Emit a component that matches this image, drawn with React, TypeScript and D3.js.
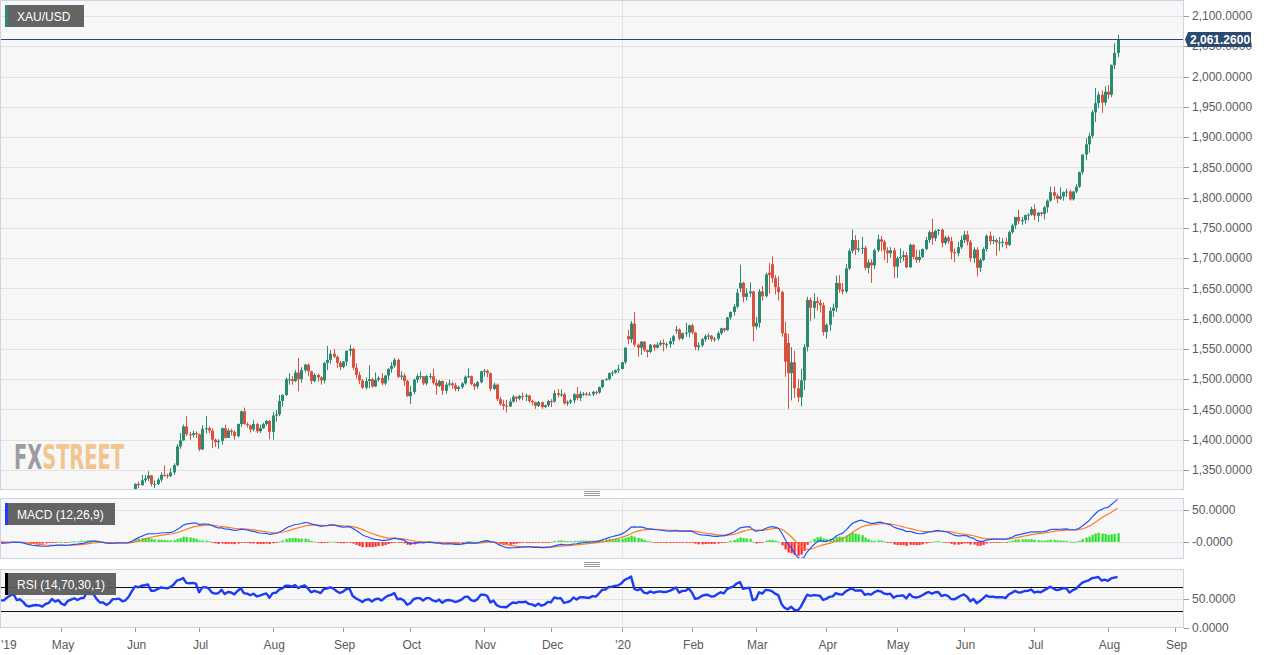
import React from 'react';
import * as d3 from 'd3';

// XAU/USD daily candles + MACD(12,26,9) + RSI(14)
// each row: open, high, low, close

type Bar = [number, number, number, number];

const mar19: Bar[] = [
  [1309, 1310, 1293, 1295], [1295, 1305, 1293, 1302], [1302, 1306, 1298, 1302], [1302, 1309, 1300, 1306],
  [1306, 1314, 1299, 1312], [1312, 1320, 1304, 1308], [1308, 1314, 1305, 1312], [1312, 1324, 1311, 1322],
  [1322, 1324, 1313, 1315], [1315, 1317, 1307, 1309], [1309, 1310, 1286, 1290], [1290, 1297, 1288, 1292],
];
const apr19: Bar[] = [
  [1292, 1295, 1285, 1287], [1287, 1293, 1281, 1291], [1291, 1295, 1286, 1290], [1290, 1296, 1284, 1291],
  [1291, 1296, 1285, 1291], [1291, 1300, 1289, 1298], [1298, 1307, 1296, 1303], [1303, 1310, 1300, 1307],
  [1307, 1309, 1290, 1293], [1293, 1298, 1288, 1295], [1295, 1296, 1284, 1288], [1288, 1290, 1274, 1276],
  [1276, 1280, 1271, 1273], [1273, 1278, 1266, 1275], [1275, 1278, 1273, 1276], [1276, 1278, 1270, 1275],
  [1275, 1277, 1266, 1271], [1271, 1278, 1270, 1276], [1276, 1281, 1272, 1278], [1278, 1288, 1275, 1286],
  [1286, 1288, 1279, 1280], [1280, 1287, 1279, 1283],
];
const may19: Bar[] = [
  [1283, 1286, 1272, 1274], [1274, 1276, 1266, 1270], [1270, 1283, 1268, 1279], [1279, 1285, 1277, 1282],
  [1282, 1287, 1280, 1285], [1285, 1286, 1277, 1281], [1281, 1286, 1279, 1285], [1285, 1288, 1280, 1286],
  [1286, 1302, 1284, 1301], [1301, 1303, 1294, 1297], [1297, 1301, 1294, 1297], [1297, 1298, 1283, 1286],
  [1286, 1287, 1275, 1277], [1277, 1281, 1274, 1277], [1277, 1278, 1269, 1270], [1270, 1276, 1270, 1274],
  [1274, 1285, 1272, 1283], [1283, 1287, 1280, 1283], [1283, 1286, 1281, 1284], [1284, 1285, 1275, 1278],
  [1278, 1283, 1277, 1280], [1280, 1290, 1278, 1288], [1288, 1306, 1287, 1305],
];
const jun19: Bar[] = [
  [1305, 1328, 1304, 1327], [1327, 1331, 1320, 1325], [1325, 1342, 1324, 1333], [1333, 1342, 1329, 1336],
  [1336, 1348, 1332, 1341], [1341, 1342, 1323, 1327], [1327, 1333, 1320, 1327], [1327, 1337, 1325, 1334],
  [1334, 1346, 1330, 1342], [1342, 1358, 1339, 1341], [1341, 1344, 1336, 1340], [1340, 1353, 1338, 1346],
  [1346, 1361, 1342, 1358], [1358, 1393, 1356, 1389], [1389, 1411, 1385, 1399], [1399, 1425, 1398, 1422],
  [1422, 1439, 1406, 1409], [1409, 1413, 1400, 1408], [1408, 1415, 1404, 1411], [1411, 1414, 1403, 1409],
];
const jul19: Bar[] = [
  [1409, 1410, 1381, 1384], [1384, 1424, 1383, 1418], [1418, 1439, 1410, 1419], [1419, 1422, 1411, 1415],
  [1415, 1419, 1386, 1400], [1400, 1402, 1388, 1396], [1396, 1401, 1385, 1398], [1398, 1420, 1392, 1419],
  [1419, 1425, 1402, 1403], [1403, 1419, 1403, 1415], [1415, 1418, 1407, 1413], [1413, 1416, 1400, 1406],
  [1406, 1427, 1404, 1426], [1426, 1448, 1421, 1447], [1447, 1453, 1425, 1426], [1426, 1429, 1420, 1424],
  [1424, 1425, 1412, 1417], [1417, 1433, 1414, 1426], [1426, 1428, 1411, 1414], [1414, 1425, 1411, 1419],
  [1419, 1428, 1418, 1426], [1426, 1433, 1423, 1431], [1431, 1433, 1401, 1413],
];
const aug19: Bar[] = [
  [1413, 1446, 1400, 1440], [1440, 1449, 1430, 1442], [1442, 1474, 1439, 1464], [1464, 1475, 1455, 1474],
  [1474, 1503, 1472, 1500], [1500, 1510, 1491, 1500], [1500, 1505, 1491, 1497], [1497, 1515, 1495, 1511],
  [1511, 1535, 1480, 1500], [1500, 1520, 1494, 1515], [1515, 1525, 1511, 1524], [1524, 1526, 1505, 1513],
  [1513, 1514, 1492, 1497], [1497, 1510, 1495, 1507], [1507, 1509, 1496, 1503], [1503, 1505, 1491, 1498],
  [1498, 1528, 1493, 1527], [1527, 1555, 1515, 1532], [1532, 1548, 1525, 1542], [1542, 1550, 1535, 1537],
  [1537, 1539, 1519, 1527], [1527, 1530, 1515, 1520],
];
const sep19: Bar[] = [
  [1520, 1530, 1518, 1529], [1529, 1547, 1522, 1547], [1547, 1557, 1538, 1550], [1550, 1552, 1515, 1519],
  [1519, 1526, 1501, 1507], [1507, 1512, 1492, 1498], [1498, 1500, 1484, 1486], [1486, 1503, 1483, 1497],
  [1497, 1523, 1485, 1500], [1500, 1502, 1486, 1488], [1488, 1511, 1487, 1499], [1499, 1505, 1496, 1502],
  [1502, 1510, 1490, 1493], [1493, 1507, 1490, 1506], [1506, 1518, 1498, 1517], [1517, 1528, 1511, 1522],
  [1522, 1535, 1519, 1532], [1532, 1534, 1502, 1504], [1504, 1513, 1499, 1506], [1506, 1510, 1489, 1497],
  [1497, 1499, 1471, 1472],
];
const oct19: Bar[] = [
  [1472, 1489, 1459, 1479], [1479, 1501, 1475, 1499], [1499, 1509, 1494, 1505], [1505, 1513, 1500, 1505],
  [1505, 1505, 1490, 1493], [1493, 1507, 1490, 1505], [1505, 1510, 1500, 1505], [1505, 1517, 1491, 1494],
  [1494, 1500, 1474, 1489], [1489, 1499, 1487, 1497], [1497, 1498, 1474, 1481], [1481, 1495, 1476, 1491],
  [1491, 1499, 1488, 1493], [1493, 1496, 1484, 1490], [1490, 1494, 1480, 1484], [1484, 1489, 1480, 1487],
  [1487, 1495, 1484, 1493], [1493, 1506, 1491, 1504], [1504, 1518, 1502, 1505], [1505, 1506, 1490, 1492],
  [1492, 1494, 1482, 1488], [1488, 1497, 1484, 1495], [1495, 1514, 1493, 1513],
];
const nov19: Bar[] = [
  [1513, 1517, 1504, 1514], [1514, 1516, 1503, 1510], [1510, 1511, 1480, 1484], [1484, 1494, 1482, 1491],
  [1491, 1493, 1464, 1467], [1467, 1471, 1456, 1459], [1459, 1466, 1449, 1456], [1456, 1466, 1445, 1455],
  [1455, 1468, 1454, 1463], [1463, 1474, 1461, 1471], [1471, 1472, 1462, 1468], [1468, 1474, 1465, 1472],
  [1472, 1478, 1465, 1471], [1471, 1476, 1464, 1473], [1473, 1474, 1461, 1464], [1464, 1466, 1457, 1462],
  [1462, 1463, 1451, 1456], [1456, 1464, 1454, 1462], [1462, 1463, 1451, 1454], [1454, 1458, 1452, 1457],
  [1457, 1466, 1454, 1464],
];
const dec19: Bar[] = [
  [1464, 1467, 1454, 1463], [1463, 1482, 1461, 1477], [1477, 1484, 1470, 1474], [1474, 1483, 1471, 1475],
  [1475, 1478, 1458, 1460], [1460, 1465, 1456, 1462], [1462, 1467, 1459, 1465], [1465, 1477, 1460, 1475],
  [1475, 1487, 1465, 1469], [1469, 1480, 1464, 1476], [1476, 1479, 1472, 1476], [1476, 1479, 1472, 1475],
  [1475, 1479, 1473, 1475], [1475, 1481, 1472, 1479], [1479, 1481, 1474, 1478], [1478, 1488, 1476, 1487],
  [1487, 1499, 1485, 1499], [1499, 1502, 1498, 1500], [1500, 1511, 1498, 1510], [1510, 1514, 1505, 1511],
  [1511, 1516, 1509, 1515], [1515, 1524, 1510, 1517],
];
const jan20: Bar[] = [
  [1517, 1529, 1516, 1528], [1528, 1553, 1525, 1552], [1571, 1582, 1558, 1566], [1566, 1596, 1560, 1592],
  [1592, 1611, 1553, 1557], [1557, 1559, 1537, 1552], [1552, 1563, 1540, 1562], [1562, 1563, 1545, 1548],
  [1548, 1549, 1536, 1545], [1545, 1558, 1543, 1557], [1557, 1558, 1547, 1552], [1552, 1561, 1551, 1557],
  [1557, 1564, 1555, 1560], [1560, 1566, 1546, 1558], [1558, 1561, 1551, 1558], [1558, 1568, 1552, 1563],
  [1563, 1573, 1557, 1571], [1580, 1588, 1575, 1582], [1582, 1584, 1564, 1567], [1567, 1577, 1565, 1576],
  [1576, 1593, 1570, 1577], [1577, 1590, 1569, 1589],
];
const feb20: Bar[] = [
  [1589, 1592, 1574, 1577], [1577, 1578, 1548, 1553], [1553, 1561, 1547, 1556], [1556, 1568, 1553, 1566],
  [1566, 1574, 1562, 1571], [1571, 1576, 1565, 1572], [1572, 1573, 1562, 1566], [1566, 1570, 1562, 1567],
  [1567, 1579, 1564, 1576], [1576, 1585, 1573, 1584], [1584, 1585, 1578, 1581], [1581, 1603, 1580, 1602],
  [1602, 1612, 1598, 1611], [1611, 1624, 1605, 1620], [1620, 1649, 1617, 1643], [1650, 1689, 1644, 1659],
  [1659, 1661, 1627, 1636], [1636, 1650, 1630, 1642], [1642, 1660, 1636, 1645], [1645, 1646, 1563, 1587],
];
const mar20: Bar[] = [
  [1587, 1603, 1582, 1593], [1593, 1649, 1585, 1645], [1645, 1654, 1630, 1637], [1637, 1676, 1635, 1673],
  [1676, 1692, 1641, 1672], [1690, 1703, 1659, 1667], [1667, 1672, 1640, 1652], [1652, 1670, 1630, 1644],
  [1644, 1646, 1570, 1576], [1576, 1595, 1504, 1529], [1560, 1575, 1451, 1510], [1510, 1553, 1465, 1528],
  [1528, 1547, 1469, 1485], [1485, 1500, 1462, 1470], [1470, 1517, 1455, 1498], [1498, 1558, 1482, 1553],
  [1553, 1636, 1546, 1631], [1631, 1635, 1596, 1618], [1618, 1642, 1600, 1629], [1629, 1636, 1613, 1626],
  [1626, 1632, 1610, 1622], [1622, 1627, 1572, 1578],
];
const apr20: Bar[] = [
  [1578, 1592, 1567, 1590], [1590, 1619, 1580, 1613], [1613, 1625, 1603, 1618], [1618, 1671, 1611, 1659],
  [1659, 1672, 1643, 1648], [1648, 1659, 1640, 1645], [1645, 1690, 1642, 1683], [1683, 1716, 1680, 1712],
  [1712, 1747, 1708, 1730], [1730, 1738, 1705, 1714], [1714, 1730, 1710, 1716], [1716, 1735, 1707, 1717],
  [1717, 1720, 1680, 1684], [1684, 1698, 1675, 1693], [1693, 1698, 1659, 1688], [1688, 1716, 1682, 1713],
  [1713, 1739, 1710, 1731], [1731, 1737, 1711, 1727], [1727, 1730, 1697, 1713], [1713, 1718, 1692, 1708],
  [1708, 1718, 1701, 1713], [1713, 1717, 1667, 1686],
];
const may20: Bar[] = [
  [1686, 1703, 1667, 1700], [1700, 1716, 1692, 1702], [1702, 1712, 1695, 1705], [1705, 1710, 1683, 1685],
  [1685, 1724, 1684, 1722], [1722, 1723, 1698, 1702], [1702, 1714, 1692, 1697], [1697, 1713, 1693, 1702],
  [1702, 1716, 1700, 1715], [1715, 1735, 1713, 1730], [1730, 1746, 1725, 1743], [1743, 1765, 1722, 1733],
  [1733, 1747, 1728, 1745], [1745, 1748, 1738, 1747], [1747, 1749, 1718, 1725], [1725, 1737, 1722, 1734],
  [1734, 1737, 1724, 1728], [1728, 1735, 1698, 1710], [1710, 1716, 1693, 1708], [1708, 1727, 1703, 1718],
  [1718, 1737, 1715, 1730],
];
const jun20: Bar[] = [
  [1730, 1745, 1725, 1739], [1739, 1745, 1721, 1727], [1727, 1730, 1694, 1700], [1700, 1718, 1692, 1714],
  [1714, 1718, 1670, 1684], [1684, 1700, 1677, 1697], [1697, 1718, 1695, 1715], [1715, 1739, 1711, 1737],
  [1737, 1744, 1722, 1728], [1728, 1737, 1723, 1730], [1730, 1733, 1704, 1726], [1726, 1735, 1712, 1726],
  [1726, 1733, 1718, 1727], [1727, 1734, 1716, 1722], [1722, 1746, 1720, 1743], [1743, 1757, 1740, 1754],
  [1754, 1768, 1748, 1768], [1768, 1780, 1756, 1761], [1761, 1768, 1755, 1763], [1763, 1772, 1757, 1771],
  [1771, 1774, 1762, 1772], [1772, 1785, 1770, 1781],
];
const jul20: Bar[] = [
  [1781, 1789, 1763, 1770], [1770, 1776, 1760, 1775], [1775, 1777, 1769, 1773], [1773, 1786, 1764, 1784],
  [1784, 1797, 1775, 1795], [1795, 1818, 1793, 1809], [1809, 1818, 1797, 1803], [1803, 1806, 1791, 1798],
  [1798, 1817, 1796, 1802], [1802, 1810, 1795, 1809], [1809, 1815, 1801, 1810], [1810, 1813, 1795, 1797],
  [1797, 1811, 1795, 1810], [1810, 1822, 1807, 1818], [1818, 1843, 1816, 1842], [1842, 1872, 1838, 1871],
  [1871, 1898, 1862, 1888], [1888, 1907, 1874, 1902], [1902, 1945, 1898, 1941], [1941, 1981, 1925, 1956],
  [1956, 1975, 1948, 1970], [1970, 1977, 1940, 1957], [1957, 1984, 1952, 1975],
];
const aug20: Bar[] = [
  [1975, 1986, 1963, 1970], [1970, 2020, 1966, 2019], [2019, 2055, 2012, 2039], [2039, 2069, 2032, 2061.26],
];

const lastPrice = 2061.26;

const priceTicks = [1350, 1400, 1450, 1500, 1550, 1600, 1650, 1700, 1750, 1800, 1850, 1900, 1950, 2000, 2050, 2100];
const macdTicks = [50, 0];
const macdTickLabels = ['50.0000', '-0.0000'];
const rsiTicks = [50, 0];
const rsiLevels = [70, 30];

const monthKeys = ['2019-04', '2019-05', '2019-06', '2019-07', '2019-08', '2019-09', '2019-10', '2019-11', '2019-12',
  '2020-01', '2020-02', '2020-03', '2020-04', '2020-05', '2020-06', '2020-07', '2020-08', '2020-09'];
const monthLabels = ["'19", 'May', 'Jun', 'Jul', 'Aug', 'Sep', 'Oct', 'Nov', 'Dec',
  "'20", 'Feb', 'Mar', 'Apr', 'May', 'Jun', 'Jul', 'Aug', 'Sep'];

const UP = '#2d8a72';
const DOWN = '#d8533f';
const BORDER = '#cdd4e6';
const GRID = '#e4e4e4';
const PANEL = '#f7f7f7';
const TXT = '#5b5b5b';

export default function App() {
  React.useEffect(() => {
    document.body.style.margin = '0';
  }, []);

  // trading calendar: weekdays, no Jan 1st
  const cal: string[] = [];
  for (let t = Date.UTC(2019, 2, 14); t <= Date.UTC(2020, 8, 30); t += 864e5) {
    const d = new Date(t);
    const wd = d.getUTCDay();
    if (wd === 0 || wd === 6) continue;
    const k = d.toISOString().slice(0, 10);
    if (k === '2020-01-01') continue;
    cal.push(k);
  }
  const idxOf = new Map(cal.map((k, i) => [k, i] as [string, number]));

  const months: [string, number, Bar[]][] = [
    ['2019-03', 14, mar19], ['2019-04', 1, apr19], ['2019-05', 1, may19], ['2019-06', 1, jun19],
    ['2019-07', 1, jul19], ['2019-08', 1, aug19], ['2019-09', 1, sep19], ['2019-10', 1, oct19],
    ['2019-11', 1, nov19], ['2019-12', 1, dec19], ['2020-01', 1, jan20], ['2020-02', 1, feb20],
    ['2020-03', 1, mar20], ['2020-04', 1, apr20], ['2020-05', 1, may20], ['2020-06', 1, jun20],
    ['2020-07', 1, jul20], ['2020-08', 1, aug20],
  ];
  const rows: { i: number; o: number; h: number; l: number; c: number }[] = [];
  months.forEach(([ym, from, arr]) => {
    const days = cal.filter((k) => k.startsWith(ym) && +k.slice(8) >= from);
    arr.forEach((b, j) => {
      if (j < days.length) rows.push({ i: idxOf.get(days[j])!, o: b[0], h: b[1], l: b[2], c: b[3] });
    });
  });

  // indicators
  const closes = rows.map((r) => r.c);
  const ema = (vals: number[], n: number) => {
    const a = 2 / (n + 1);
    const out: number[] = [];
    vals.forEach((v, k) => out.push(k === 0 ? v : a * v + (1 - a) * out[k - 1]));
    return out;
  };
  const e12 = ema(closes, 12);
  const e26 = ema(closes, 26);
  const macd = closes.map((_, k) => e12[k] - e26[k]);
  const signal = ema(macd, 9);
  const hist = macd.map((m, k) => m - signal[k]);

  const rsi: (number | null)[] = closes.map(() => null);
  let ag = 0, al = 0;
  for (let k = 1; k < closes.length; k++) {
    const ch = closes[k] - closes[k - 1];
    const g = Math.max(ch, 0), l = Math.max(-ch, 0);
    if (k <= 14) {
      ag += g / 14; al += l / 14;
      if (k === 14) rsi[k] = 100 - 100 / (1 + ag / al);
    } else {
      ag = (ag * 13 + g) / 14; al = (al * 13 + l) / 14;
      rsi[k] = al === 0 ? 100 : 100 - 100 / (1 + ag / al);
    }
  }

  // scales
  const xs = d3.scaleLinear()
    .domain([idxOf.get('2020-01-02')!, idxOf.get('2020-08-06')!])
    .range([621.5, 1117.5]);
  const yP = d3.scaleLinear().domain([1350, 2100]).range([470, 16]);
  const yM = d3.scaleLinear().domain([0, 50]).range([542, 510]);
  const yR = d3.scaleLinear().domain([0, 100]).range([628, 570]);

  const fmt = d3.format(',.4f');
  const main = { x0: 0.5, x1: 1183.5, y0: 0.5, y1: 489.5 };
  const mp = { y0: 498.5, y1: 558.5 };
  const rp = { y0: 569.5, y1: 627.5 };
  const axX = 1184;

  const macdLine = d3.line<number>().x((_, k) => xs(rows[k].i)).y((v) => yM(v));
  const rsiLine = d3.line<number | null>()
    .defined((v) => v !== null)
    .x((_, k) => xs(rows[k].i))
    .y((v) => yR(v as number));

  const yearX = Math.round(xs(idxOf.get('2020-01-02')!)) + 0.5;
  const monthX = monthKeys.map((m) => xs(idxOf.get(cal.find((k) => k.startsWith(m))!)!));

  const font = '"Liberation Sans", Arial, Helvetica, sans-serif';

  const grabber = (cy: number) => (
    <g stroke="#9a9a9a" strokeWidth={1}>
      {[-2, 0, 2].map((d) => (
        <line key={d} x1={584} x2={600} y1={cy + d + 0.5} y2={cy + d + 0.5} />
      ))}
    </g>
  );

  const legend = (y: number, w: number, bar: string, text: string) => (
    <g>
      <rect x={5} y={y} width={w} height={22} fill="#5c5c5c" fillOpacity={0.95} />
      <rect x={5} y={y} width={3} height={22} fill={bar} />
      <text x={17} y={y + 15.5} fill="#fff" fontSize={12}>{text}</text>
    </g>
  );

  const lpY = yP(lastPrice);

  return (
    <svg width={1268} height={655} style={{ display: 'block', fontFamily: font, background: '#fff' }}>
      <defs>
        <clipPath id="clipMain"><rect x={main.x0} y={main.y0} width={main.x1 - main.x0} height={main.y1 - main.y0} /></clipPath>
        <clipPath id="clipMacd"><rect x={main.x0} y={mp.y0} width={main.x1 - main.x0} height={mp.y1 - mp.y0} /></clipPath>
        <clipPath id="clipRsi"><rect x={main.x0} y={rp.y0} width={main.x1 - main.x0} height={rp.y1 - rp.y0} /></clipPath>
      </defs>

      {/* panel backgrounds */}
      <rect x={main.x0} y={main.y0} width={main.x1 - main.x0} height={main.y1 - main.y0} fill={PANEL} />
      <rect x={main.x0} y={mp.y0} width={main.x1 - main.x0} height={mp.y1 - mp.y0} fill={PANEL} />
      <rect x={main.x0} y={rp.y0} width={main.x1 - main.x0} height={rp.y1 - rp.y0} fill={PANEL} />

      {/* grid */}
      <g stroke={GRID} strokeWidth={1}>
        {priceTicks.map((p) => (
          <line key={p} x1={main.x0} x2={main.x1} y1={Math.round(yP(p)) + 0.5} y2={Math.round(yP(p)) + 0.5} />
        ))}
        {macdTicks.map((v) => (
          <line key={'m' + v} x1={main.x0} x2={main.x1} y1={Math.round(yM(v)) + 0.5} y2={Math.round(yM(v)) + 0.5} />
        ))}
        <line x1={main.x0} x2={main.x1} y1={Math.round(yR(50)) + 0.5} y2={Math.round(yR(50)) + 0.5} />
        <line x1={yearX} x2={yearX} y1={main.y0} y2={main.y1} />
        <line x1={yearX} x2={yearX} y1={mp.y0} y2={mp.y1} />
        <line x1={yearX} x2={yearX} y1={rp.y0} y2={rp.y1} />
      </g>

      {/* watermark */}
      <text x={14} y={469} fontFamily='"Liberation Sans Narrow", "DejaVu Sans Condensed", Arial Narrow, sans-serif'
        fontWeight="bold" fontSize={34} textLength={110} lengthAdjust="spacingAndGlyphs">
        <tspan fill="#9c9ca1">FX</tspan><tspan fill="#f2c48e">STREET</tspan>
      </text>

      {/* candles */}
      <g clipPath="url(#clipMain)">
        {rows.map((r) => {
          const cx = Math.round(xs(r.i));
          const col = r.c >= r.o ? UP : DOWN;
          const yt = yP(Math.max(r.o, r.c));
          const yb = yP(Math.min(r.o, r.c));
          return (
            <g key={r.i}>
              <line x1={cx + 0.5} x2={cx + 0.5} y1={yP(r.h)} y2={yP(r.l)} stroke={col} strokeWidth={1} />
              <rect x={cx - 1} y={yt} width={3} height={Math.max(1, yb - yt)} fill={col} />
            </g>
          );
        })}
      </g>

      {/* last price line */}
      <line x1={main.x0} x2={axX} y1={Math.round(lpY) + 0.5} y2={Math.round(lpY) + 0.5} stroke="#2b4a6f" strokeWidth={1} />

      {/* MACD */}
      <g clipPath="url(#clipMacd)">
        {rows.map((r, k) => {
          const cx = Math.round(xs(r.i));
          const h = hist[k];
          const y0 = yM(0);
          const y1 = yM(h);
          return (
            <rect key={r.i} x={cx - 0.5} y={Math.min(y0, y1)} width={2.2} height={Math.max(0.8, Math.abs(y1 - y0))}
              fill={h >= 0 ? '#26e026' : '#ff2424'} />
          );
        })}
        <path d={macdLine(signal) || ''} fill="none" stroke="#ff7b22" strokeWidth={1.2} />
        <path d={macdLine(macd) || ''} fill="none" stroke="#2452ff" strokeWidth={1.2} />
      </g>

      {/* RSI */}
      <g clipPath="url(#clipRsi)">
        {rsiLevels.map((v) => (
          <line key={v} x1={main.x0} x2={main.x1} y1={Math.round(yR(v)) + 0.5} y2={Math.round(yR(v)) + 0.5} stroke="#111" strokeWidth={1} />
        ))}
        <path d={rsiLine(rsi) || ''} fill="none" stroke="#1d3df2" strokeWidth={2.4} strokeLinejoin="round" />
      </g>

      {/* panel borders */}
      <g fill="none" stroke={BORDER} strokeWidth={1}>
        <rect x={main.x0} y={main.y0} width={main.x1 - main.x0} height={main.y1 - main.y0} />
        <rect x={main.x0} y={mp.y0} width={main.x1 - main.x0} height={mp.y1 - mp.y0} />
        <rect x={main.x0} y={rp.y0} width={main.x1 - main.x0} height={rp.y1 - rp.y0} />
      </g>

      {grabber(493)}
      {grabber(564)}

      {/* right axes */}
      <g fontSize={12} fill={TXT}>
        {priceTicks.map((p) => (
          <g key={p}>
            <line x1={axX} x2={axX + 5} y1={Math.round(yP(p)) + 0.5} y2={Math.round(yP(p)) + 0.5} stroke="#999" />
            <text x={1192} y={yP(p)} dy="0.35em">{fmt(p)}</text>
          </g>
        ))}
        {macdTicks.map((v, k) => (
          <g key={'m' + v}>
            <line x1={axX} x2={axX + 5} y1={Math.round(yM(v)) + 0.5} y2={Math.round(yM(v)) + 0.5} stroke="#999" />
            <text x={1192} y={yM(v)} dy="0.35em">{macdTickLabels[k]}</text>
          </g>
        ))}
        {rsiTicks.map((v) => (
          <g key={'r' + v}>
            <line x1={axX} x2={axX + 5} y1={Math.round(yR(v)) + 0.5} y2={Math.round(yR(v)) + 0.5} stroke="#999" />
            <text x={1192} y={yR(v)} dy="0.35em">{fmt(v)}</text>
          </g>
        ))}
      </g>

      {/* last price tag */}
      <g>
        <path d={`M${axX + 1},${lpY} L${axX + 4},${lpY - 7.5} L1251,${lpY - 7.5} L1251,${lpY + 7.5} L${axX + 4},${lpY + 7.5} Z`} fill="#2b4a6f" />
        <text x={1190} y={lpY} dy="0.35em" fill="#fff" fontSize={12} fontWeight="bold">{fmt(lastPrice)}</text>
      </g>

      {/* x axis */}
      <g fontSize={12} fill={TXT}>
        {monthLabels.map((lab, k) => {
          const x = monthX[k];
          const vis = x >= 0;
          return (
            <g key={k}>
              {vis && <line x1={Math.round(x) + 0.5} x2={Math.round(x) + 0.5} y1={628} y2={632} stroke="#999" />}
              {vis
                ? <text x={x + 1.5} y={649} textAnchor="middle">{lab}</text>
                : <text x={1} y={649} textAnchor="start">{lab}</text>}
            </g>
          );
        })}
      </g>

      {legend(5, 79, UP, 'XAU/USD')}
      {legend(503, 110, '#1f3cff', 'MACD (12,26,9)')}
      {legend(573, 111, '#000', 'RSI (14,70,30,1)')}
    </svg>
  );
}
